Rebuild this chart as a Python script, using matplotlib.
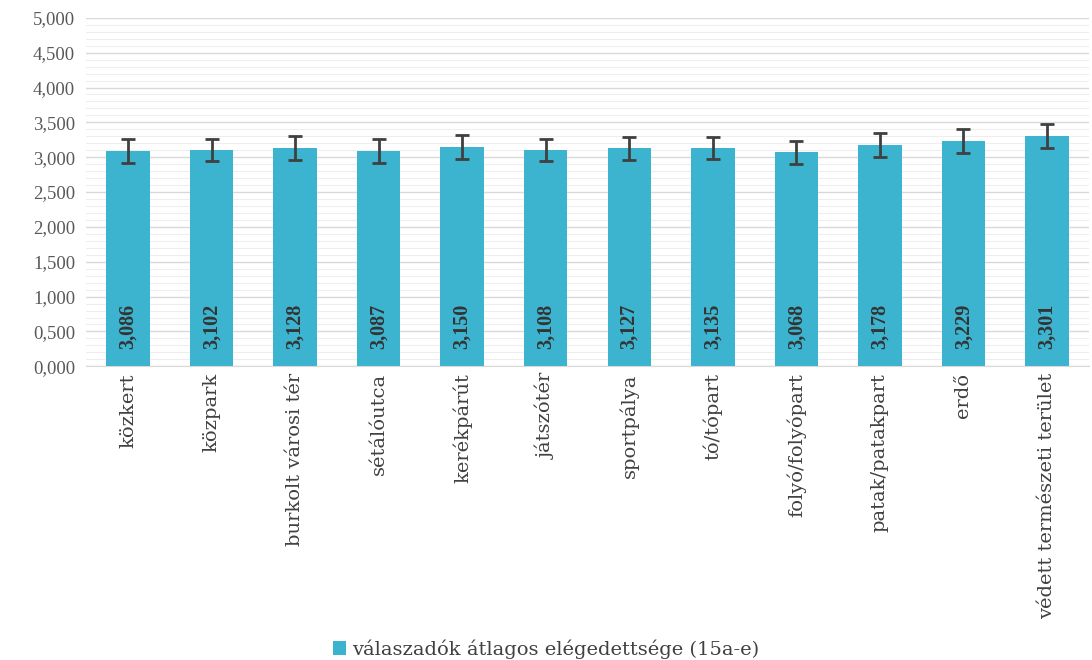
import matplotlib
matplotlib.use('Agg')
import matplotlib.pyplot as plt
from matplotlib.ticker import MultipleLocator, FuncFormatter

# adatok
categories = ['közkert', 'közpark', 'burkolt városi tér', 'sétálóutca', 'kerékpárút',
              'játszótér', 'sportpálya', 'tó/tópart', 'folyó/folyópart',
              'patak/patakpart', 'erdő', 'védett természeti terület']
values = [3.086, 3.102, 3.128, 3.087, 3.150, 3.108, 3.127, 3.135, 3.068, 3.178, 3.229, 3.301]
errors = [0.17, 0.16, 0.17, 0.17, 0.17, 0.16, 0.16, 0.16, 0.17, 0.17, 0.17, 0.17]
legend_label = 'válaszadók átlagos elégedettsége (15a-e)'

plt.rcParams['font.family'] = ['Liberation Serif', 'DejaVu Serif']
wide_font = ['DejaVu Serif']

fig = plt.figure(figsize=(10.92, 6.6), dpi=100)
ax = fig.add_axes([0.079, 0.445, 0.918, 0.528])

bar_color = '#3CB4D0'
x = list(range(len(categories)))
ax.bar(x, values, width=0.52, color=bar_color, zorder=3, label=legend_label)
ax.errorbar(x, values, yerr=errors, fmt='none', ecolor='#404040',
            elinewidth=2, capsize=5, capthick=2, zorder=4)

for xi, v in zip(x, values):
    ax.text(xi, 0.25, f'{v:.3f}'.replace('.', ','), rotation=90, ha='center',
            va='bottom', fontsize=14.5, fontweight='bold', color='#333333', zorder=5)

ax.set_ylim(0, 5)
ax.set_xlim(-0.5, len(categories) - 0.5)
ax.yaxis.set_major_locator(MultipleLocator(0.5))
ax.yaxis.set_minor_locator(MultipleLocator(0.1))
ax.yaxis.set_major_formatter(FuncFormatter(lambda v, p: f'{v:.3f}'.replace('.', ',')))
ax.grid(axis='y', which='major', color='#d9d9d9', linewidth=1, zorder=0)
ax.grid(axis='y', which='minor', color='#eeeeee', linewidth=0.8, zorder=0)

ax.set_xticks(x)
ax.set_xticklabels(categories, rotation=90, fontsize=14, color='#404040', family=wide_font)
ax.tick_params(axis='y', which='both', length=0)
ax.tick_params(axis='y', which='major', pad=8)
for lbl in ax.get_yticklabels():
    lbl.set_family(['Liberation Serif'])
    lbl.set_fontsize(13.5)
    lbl.set_color('#595959')
ax.tick_params(axis='x', length=0, pad=5)
for s in ['top', 'right', 'left']:
    ax.spines[s].set_visible(False)
ax.spines['bottom'].set_color('#d9d9d9')

fig.legend(loc='lower center', bbox_to_anchor=(0.5, -0.025), frameon=False,
           prop={'family': wide_font, 'size': 14}, handlelength=0.7,
           handleheight=0.7, handletextpad=0.3, labelcolor='#404040')

fig.savefig('out.png', dpi=100)
